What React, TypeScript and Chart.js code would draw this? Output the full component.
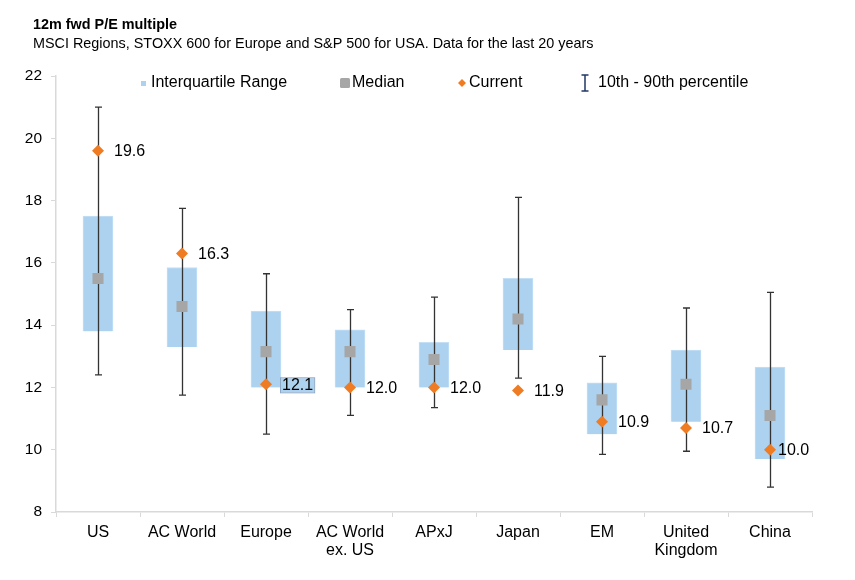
import { useEffect, useRef } from "react";
import { Chart, registerables } from "chart.js";

Chart.register(...registerables);

const categories: (string | string[])[] = [
  "US",
  "AC World",
  "Europe",
  ["AC World", "ex. US"],
  "APxJ",
  "Japan",
  "EM",
  ["United", "Kingdom"],
  "China",
];
const p10 = [12.4, 11.75, 10.5, 11.1, 11.35, 12.3, 9.85, 9.95, 8.8];
const p90 = [21.0, 17.75, 15.65, 14.5, 14.9, 18.1, 13.0, 14.55, 15.05];
const q1 = [13.8, 13.3, 12.0, 12.0, 12.0, 13.2, 10.5, 10.9, 9.7];
const q3 = [17.5, 15.85, 14.45, 13.85, 13.45, 15.5, 12.15, 13.2, 12.65];
const median = [15.5, 14.6, 13.15, 13.15, 12.9, 14.2, 11.6, 12.1, 11.1];
const current = [19.6, 16.3, 12.1, 12.0, 12.0, 11.9, 10.9, 10.7, 10.0];
const yTicks = [8, 10, 12, 14, 16, 18, 20, 22];

const TITLE = "12m fwd P/E multiple";
const SUBTITLE =
  "MSCI Regions, STOXX 600 for Europe and S&P 500 for USA. Data for the last 20 years";
const LEGEND = ["Interquartile Range", "Median", "Current", "10th - 90th percentile"];

const FONT = '"Liberation Sans", Arial, Helvetica, sans-serif';
const BOX_BLUE = "#acd2f0";
const MEDIAN_GREY = "#a6a6a6";
const ORANGE = "#ef7b22";
const WHISKER = "#333333";
const AXIS = "#d9d9d9";

const overlay = {
  id: "overlay",
  afterDatasetDraw(chart: any, args: any) {
    if (args.index !== 0) return;
    const { ctx, scales } = chart;
    const x = scales.x;
    const y = scales.y;
    ctx.save();
    ctx.strokeStyle = WHISKER;
    ctx.lineWidth = 1.3;
    for (let i = 0; i < categories.length; i++) {
      const cx = Math.round(x.getPixelForValue(i)) + 0.5;
      const top = y.getPixelForValue(p90[i]);
      const bot = y.getPixelForValue(p10[i]);
      ctx.beginPath();
      ctx.moveTo(cx, top);
      ctx.lineTo(cx, bot);
      ctx.moveTo(cx - 3.5, top);
      ctx.lineTo(cx + 3.5, top);
      ctx.moveTo(cx - 3.5, bot);
      ctx.lineTo(cx + 3.5, bot);
      ctx.stroke();
    }
    ctx.restore();
  },
  afterDraw(chart: any) {
    const { ctx, scales } = chart;
    const x = scales.x;
    const y = scales.y;
    ctx.save();
    // value labels for current
    ctx.font = `16px ${FONT}`;
    ctx.textBaseline = "middle";
    ctx.textAlign = "left";
    for (let i = 0; i < categories.length; i++) {
      const dx = categories[i] === "China" ? 8 : 16;
      const px = x.getPixelForValue(i) + dx;
      const py = y.getPixelForValue(current[i]) + 1;
      const txt = current[i].toFixed(1);
      if (categories[i] === "Europe") {
        const w = ctx.measureText(txt).width;
        ctx.fillStyle = BOX_BLUE;
        ctx.fillRect(px - 1, py - 7, w + 2, 14);
        ctx.strokeStyle = "#8ea9c8";
        ctx.lineWidth = 1;
        ctx.strokeRect(px - 1.5, py - 7.5, w + 3, 15);
      }
      ctx.fillStyle = "#000";
      ctx.fillText(txt, px, py);
    }

    // titles
    ctx.textBaseline = "alphabetic";
    ctx.fillStyle = "#000";
    ctx.font = `bold 14.4px ${FONT}`;
    ctx.fillText(TITLE, 33, 29);
    ctx.font = `14.4px ${FONT}`;
    ctx.fillText(SUBTITLE, 33, 47.5);

    // legend
    const ly = 83;
    ctx.font = `16px ${FONT}`;
    ctx.textBaseline = "middle";
    // IQR
    ctx.fillStyle = BOX_BLUE;
    ctx.fillRect(141, ly - 2, 5, 5);
    ctx.fillStyle = "#000";
    ctx.fillText(LEGEND[0], 151, ly);
    // Median
    ctx.fillStyle = MEDIAN_GREY;
    ctx.beginPath();
    (ctx as any).roundRect ? (ctx as any).roundRect(340, ly - 5, 10, 10, 1.5) : ctx.rect(340, ly - 5, 10, 10);
    ctx.fill();
    ctx.fillStyle = "#000";
    ctx.fillText(LEGEND[1], 352, ly);
    // Current
    ctx.fillStyle = ORANGE;
    ctx.beginPath();
    ctx.moveTo(462, ly - 4);
    ctx.lineTo(466, ly);
    ctx.lineTo(462, ly + 4);
    ctx.lineTo(458, ly);
    ctx.closePath();
    ctx.fill();
    ctx.fillStyle = "#000";
    ctx.fillText(LEGEND[2], 469, ly);
    // whisker
    ctx.strokeStyle = "#1f3864";
    ctx.lineWidth = 1.5;
    ctx.beginPath();
    ctx.moveTo(585, 75);
    ctx.lineTo(585, 91);
    ctx.moveTo(581.5, 75);
    ctx.lineTo(588.5, 75);
    ctx.moveTo(581.5, 91);
    ctx.lineTo(588.5, 91);
    ctx.stroke();
    ctx.fillStyle = "#000";
    ctx.fillText(LEGEND[3], 598, ly);
    ctx.restore();
  },
};

export default function App() {
  const ref = useRef<HTMLCanvasElement | null>(null);
  useEffect(() => {
    if (!ref.current) return;
    const chart = new Chart(ref.current, {
      type: "bar",
      data: {
        labels: categories,
        datasets: [
          {
            type: "bar",
            label: LEGEND[0],
            data: q1.map((v, i) => [v, q3[i]]),
            backgroundColor: BOX_BLUE,
            borderColor: "#c4e0f6",
            borderWidth: 1,
            barThickness: 30,
            order: 3,
          } as any,
          {
            type: "line",
            label: LEGEND[1],
            data: median,
            showLine: false,
            pointStyle: "rect",
            pointRadius: 7.8,
            pointBackgroundColor: MEDIAN_GREY,
            pointBorderColor: MEDIAN_GREY,
            pointBorderWidth: 0,
            order: 2,
          },
          {
            type: "line",
            label: LEGEND[2],
            data: current,
            showLine: false,
            pointStyle: "rectRot",
            pointRadius: 6,
            pointBackgroundColor: ORANGE,
            pointBorderColor: ORANGE,
            pointBorderWidth: 0,
            order: 1,
          },
        ],
      },
      options: {
        animation: false,
        responsive: false,
        maintainAspectRatio: false,
        layout: { padding: { left: 0, right: 43, top: 76, bottom: 0 } },
        plugins: {
          legend: { display: false },
          title: { display: false },
          tooltip: { enabled: false },
        },
        scales: {
          x: {
            type: "category",
            offset: true,
            grid: {
              offset: true,
              drawOnChartArea: false,
              drawTicks: true,
              tickLength: 5,
              color: AXIS,
            },
            border: { display: true, color: AXIS, width: 1.5 },
            ticks: {
              color: "#000",
              font: { family: FONT, size: 16, lineHeight: 1.15 },
              padding: 6,
              maxRotation: 0,
              autoSkip: false,
            },
            afterFit(scale: any) {
              scale.height = 68;
            },
          },
          y: {
            min: 8,
            max: 22,
            afterBuildTicks(scale: any) {
              scale.ticks = yTicks.map((v) => ({ value: v }));
            },
            grid: {
              drawOnChartArea: false,
              drawTicks: true,
              tickLength: 5,
              color: AXIS,
            },
            border: { display: true, color: AXIS, width: 1.5 },
            ticks: {
              color: "#000",
              font: { family: FONT, size: 15.5 },
              padding: 9,
            },
            afterFit(scale: any) {
              scale.width = 56;
            },
          },
        },
      },
      plugins: [overlay],
    });
    return () => chart.destroy();
  }, []);
  return (
    <div style={{ position: "fixed", left: 0, top: 0, width: 855, height: 580, background: "#fff" }}>
      <canvas ref={ref} width={855} height={580} style={{ width: 855, height: 580 }} />
    </div>
  );
}
